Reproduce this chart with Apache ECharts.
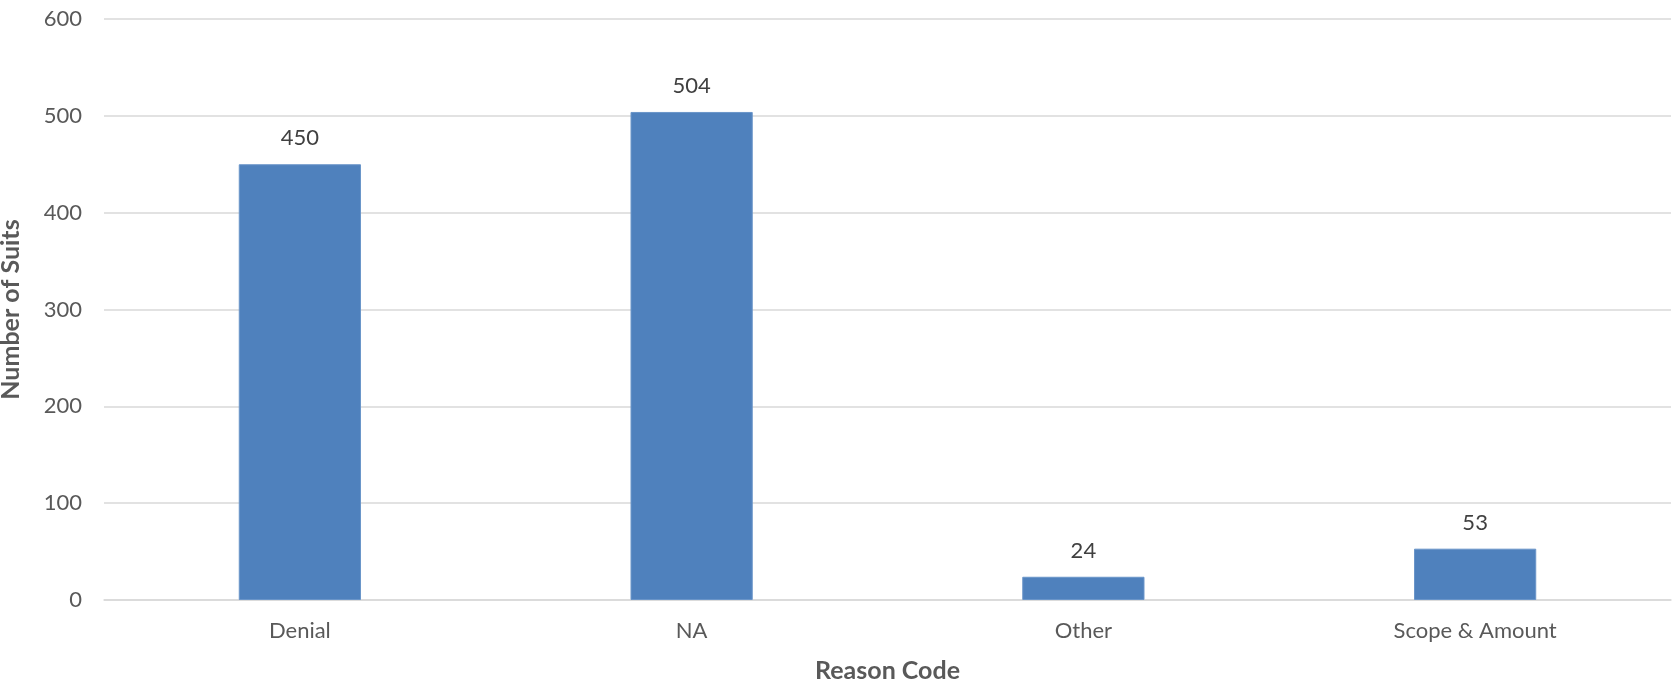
<!DOCTYPE html>
<html>
<head>
<meta charset="utf-8">
<script src="https://cdn.jsdelivr.net/npm/echarts@6/dist/echarts.min.js"></script>
<style>
  html, body { margin: 0; padding: 0; background: #fff; }
  #chart { width: 1675px; height: 682px; }
</style>
</head>
<body>
<div id="chart"></div>
<script>
const categories = ["Denial", "NA", "Other", "Scope & Amount"];
const suitCounts = [450, 504, 24, 53];
const yTicks = [0, 100, 200, 300, 400, 500, 600];

const FONT = "Lato, 'Open Sans', sans-serif";
const chart = echarts.init(document.getElementById('chart'), null, { renderer: 'canvas' });
chart.setOption({
  animation: false,
  backgroundColor: '#ffffff',
  grid: { left: 104, right: 4, top: 19, bottom: 82, containLabel: false, outerBoundsMode: 'none' },
  xAxis: {
    type: 'category',
    data: categories,
    name: 'Reason Code',
    nameLocation: 'middle',
    nameGap: 58,
    nameTextStyle: { fontFamily: FONT, fontSize: 25, fontWeight: 'bold', color: '#595959' },
    axisLine: { show: true, lineStyle: { color: '#D9D9D9', width: 1.5 } },
    axisTick: { show: false },
    axisLabel: { fontFamily: FONT, fontSize: 22, color: '#595959', margin: 20 }
  },
  yAxis: {
    type: 'value',
    min: yTicks[0],
    max: yTicks[yTicks.length - 1],
    interval: yTicks[1] - yTicks[0],
    name: 'Number of Suits',
    nameLocation: 'middle',
    nameGap: 81,
    nameTextStyle: { fontFamily: FONT, fontSize: 25, fontWeight: 'bold', color: '#595959' },
    axisLine: { show: false },
    axisTick: { show: false },
    splitLine: { lineStyle: { color: '#D9D9D9', width: 1.5 } },
    axisLabel: { fontFamily: FONT, fontSize: 22, color: '#595959', margin: 22 }
  },
  series: [{
    type: 'bar',
    data: suitCounts,
    barWidth: '31.2%',
    itemStyle: { color: '#4F81BD', borderColor: '#6A95C9', borderWidth: 1 },
    label: {
      show: true,
      position: 'top',
      distance: 15,
      fontFamily: FONT,
      fontSize: 22,
      color: '#404040'
    }
  }]
});
</script>
</body>
</html>
